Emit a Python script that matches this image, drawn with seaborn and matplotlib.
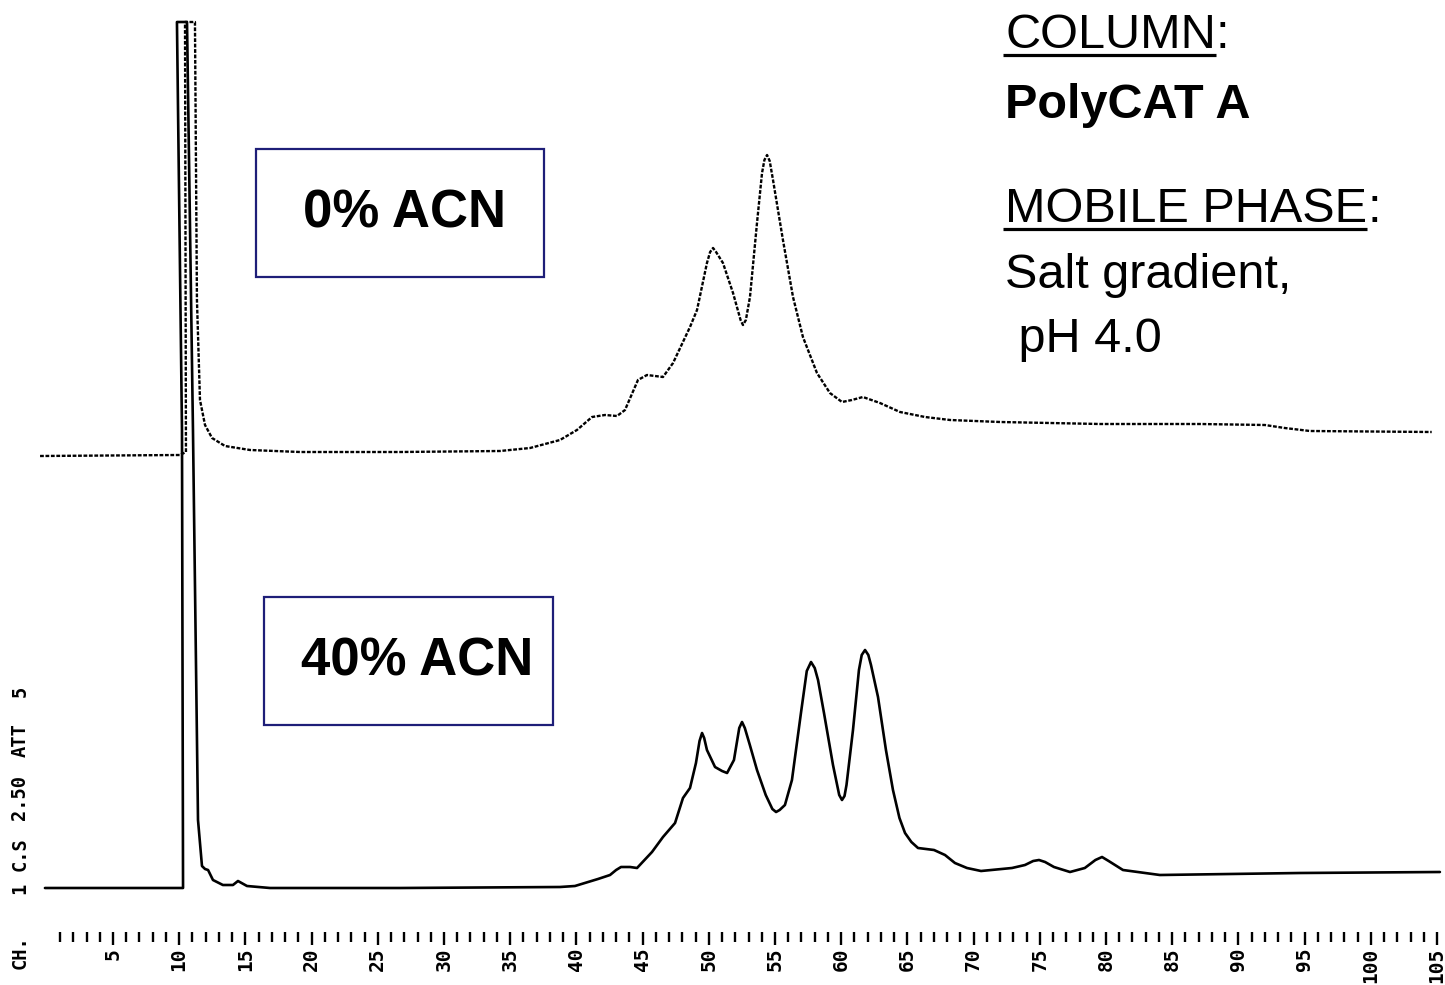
import numpy as np
import pandas as pd
import matplotlib
matplotlib.use("Agg")
import matplotlib.pyplot as plt
from matplotlib.patches import Rectangle
from matplotlib.lines import Line2D
import seaborn as sns

# ---------------- data (retention time, min / detector signal, a.u.) ----------------
time_40acn = [-0.14, 10.29, 10.21, 9.83, 10.59, 11.04, 11.42, 11.72, 11.95, 12.18, 12.55,
              13.30, 14.06, 14.44, 15.12, 16.86, 26.68, 38.76, 39.89, 41.63, 42.54, 43.00,
              43.37, 44.05, 44.58, 45.71, 46.54, 47.45, 48.05, 48.58, 49.03, 49.30, 49.49,
              49.65, 49.86, 50.47, 51.00, 51.38, 51.90, 52.30, 52.51, 52.72, 53.10, 53.64,
              54.30, 54.80, 55.08, 55.35, 55.75, 56.28, 56.96, 57.40, 57.72, 58.00, 58.25,
              58.70, 59.38, 59.85, 60.06, 60.25, 60.40, 60.89, 61.34, 61.55, 61.80, 62.05,
              62.25, 62.78, 63.38, 63.91, 64.40, 64.82, 65.30, 65.80, 67.01, 67.84, 68.59,
              69.50, 70.56, 72.90, 73.88, 74.50, 74.94, 75.40, 76.07, 77.28, 78.40, 79.20,
              79.70, 80.20, 81.28, 84.07, 94.65, 105.22]
signal_40acn = [0.00, 0.00, 4.58, 8.66, 8.66, 4.58, 0.68, 0.22, 0.19, 0.18, 0.08,
                0.03, 0.03, 0.07, 0.02, 0.00, 0.00, 0.01, 0.02, 0.09, 0.13, 0.18,
                0.21, 0.21, 0.20, 0.36, 0.51, 0.65, 0.90, 1.00, 1.25, 1.47, 1.55,
                1.50, 1.38, 1.21, 1.17, 1.15, 1.28, 1.60, 1.66, 1.60, 1.43, 1.18,
                0.93, 0.79, 0.76, 0.78, 0.83, 1.08, 1.75, 2.17, 2.26, 2.20, 2.08,
                1.75, 1.23, 0.93, 0.88, 0.92, 1.03, 1.58, 2.18, 2.33, 2.38, 2.33,
                2.23, 1.91, 1.38, 0.98, 0.70, 0.55, 0.46, 0.40, 0.38, 0.33, 0.25,
                0.20, 0.17, 0.20, 0.23, 0.27, 0.28, 0.26, 0.21, 0.16, 0.20, 0.28,
                0.31, 0.27, 0.18, 0.13, 0.15, 0.16]

time_0acn = [-0.51, 10.06, 10.51, 10.44, 11.19, 11.34, 11.57, 11.95, 12.48, 13.46, 15.35,
             19.12, 26.68, 34.23, 36.50, 37.63, 38.76, 40.04, 41.18, 42.16, 43.07, 43.67,
             44.65, 45.33, 45.94, 46.54, 47.30, 48.58, 49.11, 49.86, 50.10, 50.32, 50.55,
             51.07, 51.83, 52.40, 52.58, 52.80, 53.11, 53.64, 54.02, 54.20, 54.40, 54.60,
             54.85, 55.60, 56.36, 57.11, 58.17, 59.15, 60.06, 60.81, 61.64, 62.93, 64.44,
             66.33, 68.22, 72.00, 79.55, 87.10, 92.00, 93.50, 95.40, 104.60]
signal_0acn = [4.32, 4.33, 4.36, 8.66, 8.66, 5.88, 4.88, 4.63, 4.50, 4.42, 4.38,
               4.36, 4.36, 4.37, 4.40, 4.44, 4.48, 4.58, 4.71, 4.73, 4.72, 4.78,
               5.08, 5.13, 5.12, 5.11, 5.25, 5.61, 5.78, 6.25, 6.36, 6.40, 6.36,
               6.25, 5.95, 5.68, 5.63, 5.68, 5.91, 6.65, 7.15, 7.28, 7.33, 7.27,
               7.08, 6.48, 5.91, 5.51, 5.15, 4.95, 4.86, 4.88, 4.91, 4.85, 4.76,
               4.71, 4.68, 4.66, 4.64, 4.64, 4.63, 4.60, 4.57, 4.56]

major_ticks = [5, 10, 15, 20, 25, 30, 35, 40, 45, 50, 55, 60, 65, 70, 75, 80, 85, 90, 95, 100, 105]
major_labels = ["5", "10", "15", "20", "25", "30", "35", "40", "45", "50", "55", "60", "65",
                "70", "75", "80", "85", "90", "95", "100", "105"]
minor_ticks = list(range(1, 106))

label_top = "0% ACN"
label_bottom = "40% ACN"
header_words = ["CH.", "1", "C.S", "2.50", "ATT", "5"]

# ---------------- figure ----------------
sns.set_style("white")
plt.rcParams['font.family'] = ['Liberation Sans', 'DejaVu Sans']
plt.rcParams['text.color'] = 'black'
plt.rcParams['xtick.color'] = 'black'
plt.rcParams['xtick.labelcolor'] = 'black'

W, H = 1445, 985
fig = plt.figure(figsize=(W / 100, H / 100), dpi=100)
fig.patch.set_facecolor("white")

def fx(px):
    return px / W

def fy(py):
    return 1 - py / H

ax = fig.add_axes([0, fy(932), 1, 932 / H])
ax.set_facecolor("none")

df40 = pd.DataFrame({"time": time_40acn, "signal": signal_40acn})
df0 = pd.DataFrame({"time": time_0acn, "signal": signal_0acn})

sns.lineplot(data=df40, x="time", y="signal", sort=False, estimator=None,
             color="black", lw=1.9, ax=ax)
sns.lineplot(data=df0, x="time", y="signal", sort=False, estimator=None,
             color="black", lw=1.7, ax=ax)
ax.lines[1].set_linestyle((0, (1.6, 0.7)))
for ln in ax.lines:
    ln.set_solid_joinstyle("round")

ax.set_xlim((0 - 46.8) / 13.24, (W - 46.8) / 13.24)
ax.set_ylim((888 - 932) / 100, 888 / 100)
for s in ax.spines.values():
    s.set_visible(False)

ax.set_xticks(major_ticks)
ax.set_xticklabels(major_labels, rotation=90, family="DejaVu Sans Mono",
                   fontsize=14, fontweight="bold", color="black")
ax.set_xticks(minor_ticks, minor=True)
ax.tick_params(axis="x", which="major", direction="out", length=9, width=1.7,
               color="black", pad=2.5, bottom=True)
ax.tick_params(axis="x", which="minor", direction="out", length=7, width=1.7,
               color="black", bottom=True)
ax.set_yticks([])
ax.set_xlabel("")
ax.set_ylabel("")

# ---------------- label boxes ----------------
edge = "#1e1e78"
for (x0, y0, x1, y1) in [(256, 149, 544, 277), (264, 597, 553, 725)]:
    fig.patches.append(Rectangle((fx(x0), fy(y1)), fx(x1) - fx(x0), fy(y0) - fy(y1),
                                 transform=fig.transFigure, fill=False,
                                 edgecolor=edge, lw=1.6))
fig.text(fx(303), fy(228), label_top, fontsize=38, fontweight="bold",
         ha="left", va="baseline", color="black")
fig.text(fx(301), fy(675), label_bottom, fontsize=38, fontweight="bold",
         ha="left", va="baseline", color="black")

# ---------------- right-side annotations ----------------
renderer = fig.canvas.get_renderer()

def underlined(x, y, word, rest, fs=35):
    t = fig.text(fx(x), fy(y), word, fontsize=fs, ha="left", va="baseline", color="black")
    bb = t.get_window_extent(renderer)
    fig.text(bb.x1 / W, fy(y), rest, fontsize=fs, ha="left", va="baseline", color="black")
    ul = fy(y + 7)
    fig.lines.append(Line2D([fx(x - 2), bb.x1 / W], [ul, ul], transform=fig.transFigure,
                            color="black", lw=2.3, solid_capstyle="butt"))

underlined(1005, 48, "COLUMN", ":")
fig.text(fx(1005), fy(118), "PolyCAT A", fontsize=35, fontweight="bold",
         ha="left", va="baseline", color="black")
underlined(1005, 222, "MOBILE PHASE", ":")
fig.text(fx(1005), fy(288), "Salt gradient,", fontsize=35, ha="left", va="baseline",
         color="black")
fig.text(fx(1005), fy(352), " pH 4.0", fontsize=35, ha="left", va="baseline",
         color="black")

# ---------------- recorder header (rotated) ----------------
header_pos = [952, 888, 854, 798, 740, 691]
for word, py in zip(header_words, header_pos):
    fig.text(fx(20), fy(py), word, rotation=90, family="DejaVu Sans Mono",
             fontsize=13.5, fontweight="bold", ha="center", va="center", color="black")

fig.savefig("out.png", dpi=100, facecolor="white")
